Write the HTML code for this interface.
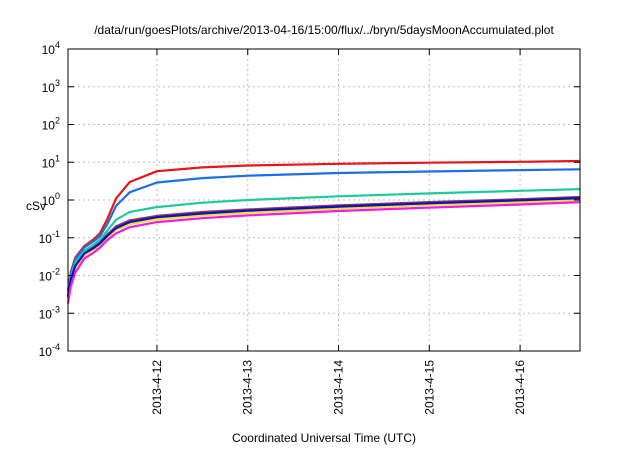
<!DOCTYPE html>
<html><head><meta charset="utf-8"><style>
body{margin:0;background:#fff;font-family:"Liberation Sans",sans-serif;}
</style></head><body>
<svg width="640" height="448" xmlns="http://www.w3.org/2000/svg" font-family="Liberation Sans, sans-serif" font-size="12">
<text x="324" y="34" text-anchor="middle" font-size="12">/data/run/goesPlots/archive/2013-04-16/15:00/flux/../bryn/5daysMoonAccumulated.plot</text>
<g id="grid"></g><g id="series"></g><g id="axes"></g>
<text x="36" y="210" text-anchor="middle" font-size="12">cSv</text>
<text x="324" y="442" text-anchor="middle" font-size="12">Coordinated Universal Time (UTC)</text>
</svg>
<script>
const times=[0.02,0.05,0.1,0.2,0.3,0.37,0.45,0.55,0.7,1,1.5,2,3,4,5,5.66];
const redVals=[0.004,0.012,0.03,0.06,0.09,0.13,0.3,1.1,3,5.8,7.3,8.2,9.1,9.7,10.3,10.8];
const blueVals=[0.0035,0.011,0.027,0.055,0.08,0.11,0.22,0.7,1.6,2.9,3.8,4.4,5.2,5.7,6.2,6.5];
const tealVals=[0.003,0.009,0.022,0.045,0.065,0.09,0.15,0.3,0.48,0.65,0.85,1.0,1.25,1.5,1.75,1.95];
const purpleVals=[0.0028,0.008,0.019,0.04,0.056,0.075,0.12,0.2,0.29,0.38,0.48,0.56,0.72,0.88,1.05,1.2];
const navyVals=[0.0027,0.0077,0.018,0.038,0.053,0.07,0.11,0.18,0.26,0.35,0.44,0.52,0.67,0.82,0.98,1.12];
const yellowVals=[0.0025,0.007,0.016,0.034,0.048,0.064,0.1,0.16,0.23,0.31,0.39,0.46,0.6,0.74,0.88,1.0];
const magentaVals=[0.0018,0.005,0.012,0.028,0.04,0.054,0.085,0.13,0.19,0.26,0.33,0.39,0.51,0.63,0.76,0.88];
const seriesList=[["purple",purpleVals,"#8b3a62"],["red",redVals,"#e8141a"],["blue",blueVals,"#1a6fe8"],["teal",tealVals,"#1ec9a0"],["yellow",yellowVals,"#f2e21a"],["navy",navyVals,"#0a10c8"],["magenta",magentaVals,"#f21ae8"]];
const xTickVals=[1,2,3,4,5];
const xTickLabels=["2013-4-12","2013-4-13","2013-4-14","2013-4-15","2013-4-16"];
const yTickExps=[-4,-3,-2,-1,0,1,2,3,4];
const L=68,R=580,T=49,B=351,x0=0.02,x1=5.66;
const xs=d=>L+(d-x0)/(x1-x0)*(R-L);
const ys=v=>B-(Math.log10(v)+4)/8*(B-T);
const NS="http://www.w3.org/2000/svg";
function mk(t,p,a){const e=document.createElementNS(NS,t);for(const k in a)e.setAttribute(k,a[k]);p.appendChild(e);return e;}
const grid=document.getElementById('grid'),axes=document.getElementById('axes'),ser=document.getElementById('series');
yTickExps.forEach(e=>{const y=ys(Math.pow(10,e));
 if(e>-4&&e<4){const g=mk('line',grid,{x1:L,x2:R,y1:y,y2:y,stroke:'#bbb','stroke-dasharray':'2,3'});}
 const t=mk('line',axes,{x1:L,x2:L+6,y1:y,y2:y,stroke:'#000'});
 const t2=mk('line',axes,{x1:R-6,x2:R,y1:y,y2:y,stroke:'#000'});
 const tx=mk('text',axes,{x:L-8,y:y+5,'text-anchor':'end'});
 tx.innerHTML='10<tspan dy="-6" font-size="9">'+e+'</tspan>';});
xTickVals.forEach((d,i)=>{const x=xs(d);
 const g=mk('line',grid,{x1:x,x2:x,y1:T,y2:B,stroke:'#bbb','stroke-dasharray':'2,3'});
 const t=mk('line',axes,{x1:x,x2:x,y1:B-6,y2:B,stroke:'#000'});
 const t2=mk('line',axes,{x1:x,x2:x,y1:T,y2:T+6,stroke:'#000'});
 const tx=mk('text',axes,{x:0,y:0,'text-anchor':'end',transform:`translate(${x+4},${B+9}) rotate(-90)`});tx.textContent=xTickLabels[i];});
seriesList.forEach(([n,vals,c])=>{let d='';vals.forEach((v,i)=>{d+=(i?'L':'M')+xs(times[i]).toFixed(1)+','+ys(v).toFixed(1);});
 const p=mk('path',ser,{d:d,fill:'none',stroke:c,'stroke-width':2.2,'stroke-linejoin':'round'});});
const box=mk('rect',axes,{x:L,y:T,width:R-L,height:B-T,fill:'none',stroke:'#000','stroke-width':1});
</script></body></html>
